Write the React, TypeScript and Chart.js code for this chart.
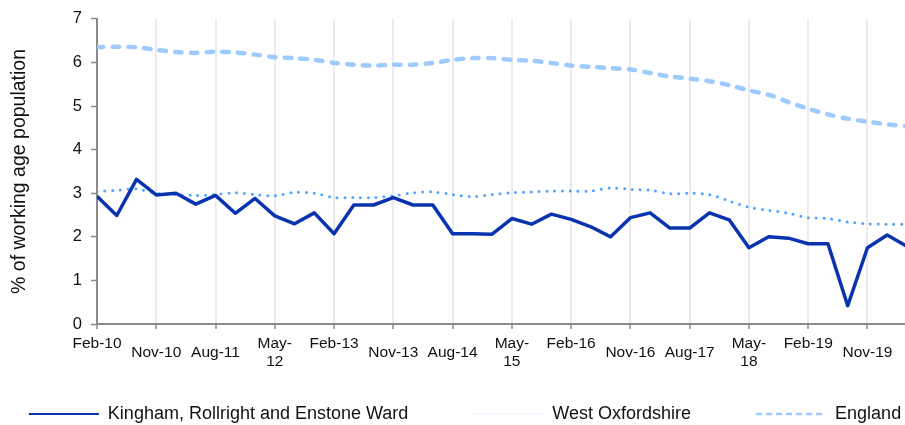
import React, { useEffect, useRef } from "react";
import { Chart, registerables } from "chart.js";

Chart.register(...registerables);

const periods = [
  "Feb-10", "May-10", "Aug-10", "Nov-10", "Feb-11", "May-11", "Aug-11", "Nov-11",
  "Feb-12", "May-12", "Aug-12", "Nov-12", "Feb-13", "May-13", "Aug-13", "Nov-13",
  "Feb-14", "May-14", "Aug-14", "Nov-14", "Feb-15", "May-15", "Aug-15", "Nov-15",
  "Feb-16", "May-16", "Aug-16", "Nov-16", "Feb-17", "May-17", "Aug-17", "Nov-17",
  "Feb-18", "May-18", "Aug-18", "Nov-18", "Feb-19", "May-19", "Aug-19", "Nov-19",
  "Feb-20", "May-20",
];

const tickLabels: (string | string[])[] = [
  ["Feb-10", ""], "Nov-10", "Aug-11", ["May-", "12"], ["Feb-13", ""], "Nov-13", "Aug-14",
  ["May-", "15"], ["Feb-16", ""], "Nov-16", "Aug-17", ["May-", "18"], ["Feb-19", ""], "Nov-19",
];

const kingham = [
  2.93, 2.49, 3.32, 2.96, 3.0, 2.75, 2.95, 2.54, 2.88, 2.48, 2.3, 2.55, 2.07, 2.73,
  2.73, 2.9, 2.73, 2.73, 2.07, 2.07, 2.06, 2.42, 2.29, 2.52, 2.4, 2.23, 2.0, 2.44,
  2.55, 2.2, 2.2, 2.55, 2.39, 1.75, 2.0, 1.97, 1.84, 1.84, 0.42, 1.75, 2.04, 1.78,
];

const westOxfordshire = [
  3.04, 3.07, 3.1, 3.0, 2.97, 2.95, 2.97, 3.01, 2.97, 2.94, 3.02, 3.0, 2.9, 2.9,
  2.9, 2.94, 3.01, 3.03, 2.97, 2.92, 2.97, 3.01, 3.03, 3.05, 3.05, 3.05, 3.12, 3.09,
  3.07, 2.99, 3.0, 2.97, 2.82, 2.68, 2.61, 2.54, 2.44, 2.42, 2.34, 2.3, 2.29, 2.29,
];

const england = [
  6.35, 6.36, 6.35, 6.29, 6.24, 6.22, 6.25, 6.23, 6.18, 6.12, 6.1, 6.06, 5.99, 5.95,
  5.93, 5.95, 5.95, 5.99, 6.06, 6.1, 6.1, 6.06, 6.04, 5.99, 5.93, 5.9, 5.87, 5.84,
  5.76, 5.68, 5.63, 5.57, 5.48, 5.36, 5.26, 5.09, 4.94, 4.81, 4.71, 4.64, 4.58, 4.54,
];

const seriesNames = ["Kingham, Rollright and Enstone Ward", "West Oxfordshire", "England"];
const yTitle = "% of working age population";

const FONT = "'Liberation Sans', Arial, sans-serif";
const AXIS_GREY = "#8a8a8a";
const TEXT = "#111111";
const lineColors = ["#0a33b0", "#4fa6ff", "#9dcbff"];
const legendColors = ["#0a33b0", "#cfe6ff", "#9dcbff"];
const legendWidths = [2, 1.5, 2.5];
const legendDashes = [[], [1, 2], [6, 4]];
const legendPad = ["           ", "           ", ""];

const legendShift = {
  id: "legendShift",
  afterLayout(chart: any) {
    if (chart.legend) {
      chart.legend.left = 18;
      chart.legend.right = 912;
    }
  },
};

export default function App() {
  const ref = useRef<HTMLCanvasElement>(null);

  useEffect(() => {
    document.body.style.margin = "0";
    const canvas = ref.current;
    if (!canvas) return;
    const toPts = (arr: number[]) => arr.map((v, i) => ({ x: i, y: v }));

    const chart = new Chart(canvas, {
      type: "line",
      data: {
        labels: periods,
        datasets: [
          {
            label: seriesNames[0],
            data: toPts(kingham),
            borderColor: lineColors[0],
            backgroundColor: lineColors[0],
            borderWidth: 3.5,
            pointRadius: 0,
            tension: 0,
            borderJoinStyle: "round",
          },
          {
            label: seriesNames[1],
            data: toPts(westOxfordshire),
            borderColor: lineColors[1],
            backgroundColor: lineColors[1],
            borderWidth: 3,
            borderDash: [0, 7.8],
            borderCapStyle: "round",
            pointRadius: 0,
            tension: 0.3,
          },
          {
            label: seriesNames[2],
            data: toPts(england),
            borderColor: lineColors[2],
            backgroundColor: lineColors[2],
            borderWidth: 4.5,
            borderDash: [6.5, 9.2],
            borderCapStyle: "round",
            pointRadius: 0,
            tension: 0.3,
          },
        ],
      } as any,
      options: {
        animation: false,
        responsive: false,
        maintainAspectRatio: false,
        layout: { padding: { top: 17, bottom: -8, left: 0, right: 0 } },
        scales: {
          x: {
            type: "linear",
            min: 0,
            max: 40.9,
            grid: {
              color: "#ebebeb",
              lineWidth: 2,
              drawTicks: true,
              tickLength: 5,
              tickColor: AXIS_GREY,
              tickWidth: 1.5,
            },
            border: { color: AXIS_GREY, width: 2 },
            ticks: {
              stepSize: 3,
              includeBounds: false,
              autoSkip: false,
              maxRotation: 0,
              minRotation: 0,
              crossAlign: "center",
              padding: 15,
              color: TEXT,
              font: { family: FONT, size: 15.5, lineHeight: 1.16 },
              callback: (v: any) => tickLabels[Math.round(Number(v) / 3)] as any,
            },
            afterFit: (s: any) => {
              s.height = 71;
              s.paddingRight = 0;
              s.paddingLeft = 0;
            },
          },
          y: {
            min: 0,
            max: 7,
            grid: {
              drawOnChartArea: false,
              drawTicks: true,
              tickLength: 6,
              tickColor: AXIS_GREY,
              tickWidth: 1.5,
            },
            border: { color: AXIS_GREY, width: 2 },
            ticks: {
              stepSize: 1,
              padding: 9,
              color: TEXT,
              font: { family: FONT, size: 16.5 },
            },
            title: {
              display: true,
              text: yTitle,
              color: TEXT,
              font: { family: FONT, size: 19.5 },
              padding: { top: 8, bottom: 0 },
            },
            afterFit: (s: any) => {
              s.width = 97;
            },
          },
        },
        plugins: {
          tooltip: { enabled: false },
          legend: {
            position: "bottom",
            align: "center",
            labels: {
              usePointStyle: true,
              pointStyleWidth: 70,
              boxWidth: 70,
              boxHeight: 18,
              padding: 10,
              color: TEXT,
              font: { family: FONT, size: 18 },
              generateLabels: (c: any) =>
                c.data.datasets.map((ds: any, i: number) => ({
                  text: ds.label + legendPad[i],
                  fillStyle: "rgba(0,0,0,0)",
                  strokeStyle: legendColors[i],
                  lineWidth: legendWidths[i],
                  lineDash: legendDashes[i],
                  lineCap: "butt",
                  pointStyle: "line",
                  hidden: false,
                  datasetIndex: i,
                  fontColor: TEXT,
                })),
            },
          },
        },
      } as any,
      plugins: [legendShift],
    });
    return () => chart.destroy();
  }, []);

  return (
    <div style={{ width: 905, height: 425, overflow: "hidden" }}>
      <canvas ref={ref} width={905} height={425} style={{ display: "block" }} />
    </div>
  );
}
